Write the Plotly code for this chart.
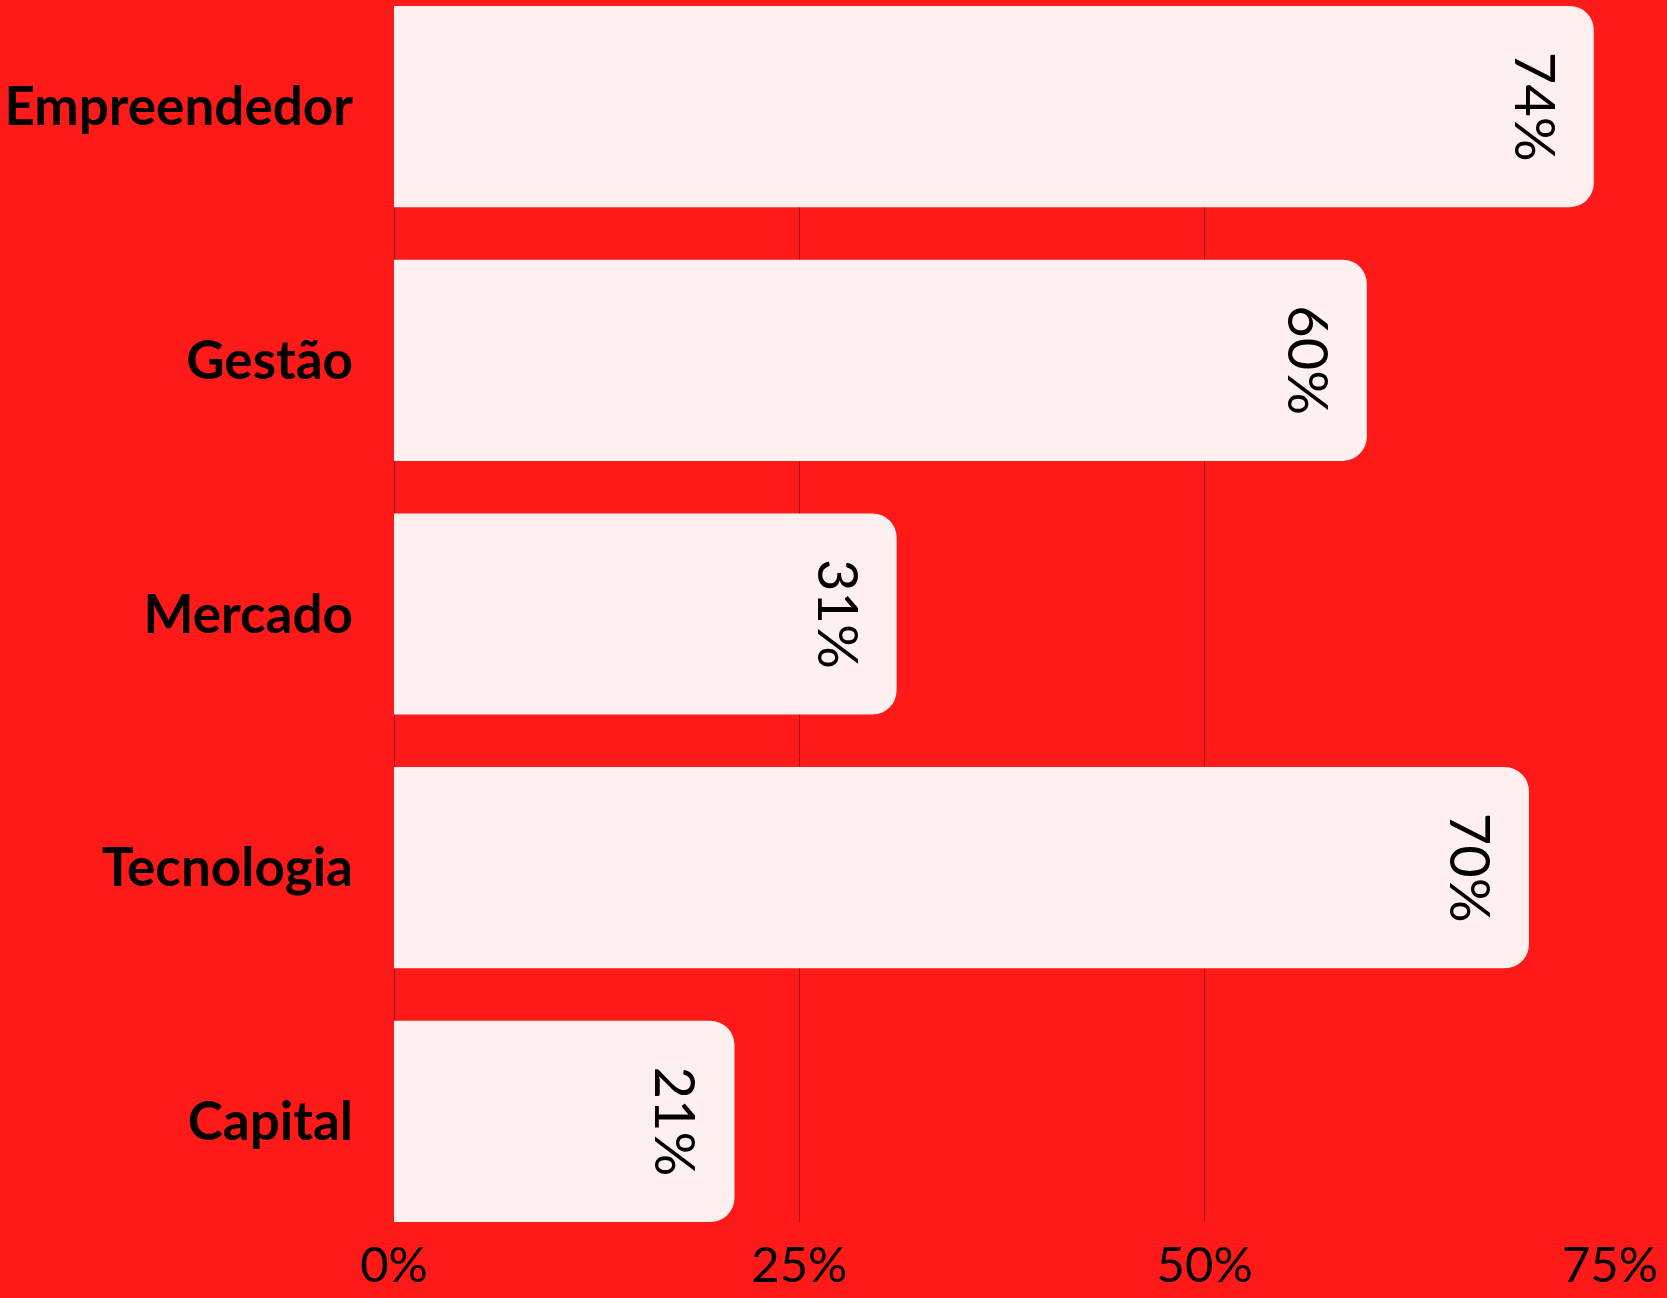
import plotly.graph_objects as go

categories = ["Empreendedor", "Gestão", "Mercado", "Tecnologia", "Capital"]
values = [74, 60, 31, 70, 21]
value_labels = ["74%", "60%", "31%", "70%", "21%"]
tick_vals = [0, 25, 50, 75]
tick_text = ["0%", "25%", "50%", "75%"]

BG = "#ff1a1a"
BAR = "#fff0f0"
GRID = "#a31212"
GAP = 0.207

fig = go.Figure(go.Bar(
    y=categories, x=values, orientation="h",
    marker=dict(color=BAR, line=dict(width=0), cornerradius=24),
    text=value_labels, textposition="inside", insidetextanchor="end",
    textangle=90, constraintext="none",
    textfont=dict(family="Lato", size=56, color="#000000"),
    hoverinfo="skip",
))

n = len(categories)
fig.update_layout(
    width=1667, height=1298,
    margin=dict(l=394, r=57, t=6, b=76, autoexpand=False),
    paper_bgcolor=BG, plot_bgcolor=BG,
    bargap=GAP, showlegend=False,
)
fig.update_xaxes(
    range=[0, 75], tickvals=tick_vals, ticktext=tick_text,
    showgrid=True, gridcolor=GRID, gridwidth=1,
    zeroline=True, zerolinecolor=GRID, zerolinewidth=1,
    showline=False, ticks="", ticklabelstandoff=10, automargin=False,
    tickfont=dict(family="Lato", size=49, color="#000000"),
)
fig.update_yaxes(
    range=[n - 0.5 - GAP / 2, -0.5 + GAP / 2],
    showgrid=False, zeroline=False, showline=False,
    ticks="", ticklabelstandoff=40, automargin=False,
    tickfont=dict(family="Lato", size=53, color="#000000", weight="bold"),
)

fig.write_html(
    "out.html",
    config={"displayModeBar": False},
    post_script="document.body.style.margin='0';document.body.style.padding='0';document.body.style.overflow='hidden';",
)
